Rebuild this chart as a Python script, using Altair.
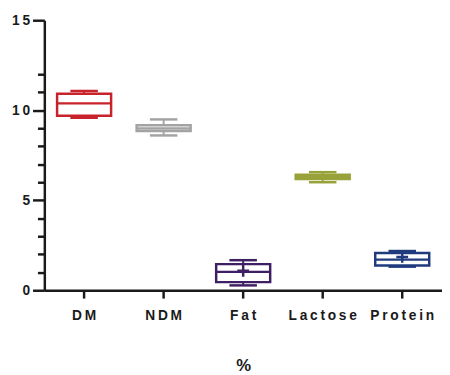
import altair as alt
import pandas as pd

categories = ["DM", "NDM", "Fat", "Lactose", "Protein"]
whisker_low = [9.58, 8.60, 0.27, 6.00, 1.31]
q1 = [9.69, 8.84, 0.45, 6.18, 1.38]
median = [10.38, 8.98, 1.02, 6.29, 1.70]
q3 = [10.91, 9.16, 1.45, 6.42, 2.07]
whisker_high = [11.07, 9.49, 1.67, 6.56, 2.18]
mean = [None, None, 1.08, None, 1.85]
colors = ["#C8222B", "#A3A3A3", "#3F1F63", "#98A23A", "#1F3B7E"]

df = pd.DataFrame({
    "cat": categories,
    "low": whisker_low,
    "q1": q1,
    "med": median,
    "q3": q3,
    "high": whisker_high,
    "mean": mean,
})

FONT = "Liberation Sans"
spaced = "join(split(datum.label,''),'\u2009')"

x_axis = alt.Axis(
    title="%",
    labelAngle=0,
    labelExpr=spaced,
    labelFont=FONT,
    labelFontSize=14,
    labelFontWeight="bold",
    labelColor="#1a1a1a",
    labelPadding=11,
    labelOverlap=False,
    titleFont=FONT,
    titleFontSize=17,
    titleFontWeight="bold",
    titleColor="#1a1a1a",
    titlePadding=36,
    tickSize=8,
    tickWidth=2.5,
    tickColor="#1a1a1a",
    domainWidth=2.5,
    domainColor="#1a1a1a",
)
xscale = alt.Scale(domain=categories, paddingInner=0, paddingOuter=0)


def xe():
    return alt.X("cat:N", sort=categories, scale=xscale, axis=x_axis)


color_enc = alt.Color("cat:N", scale=alt.Scale(domain=categories, range=colors), legend=None)

yscale = alt.Scale(domain=[0, 15], nice=False, zero=True)
y_axis = alt.Axis(
    title=None,
    values=[0, 1, 2, 3, 4, 5, 6, 7, 8, 9, 10, 11, 12, 15],
    labelExpr="datum.value % 5 === 0 ? " + spaced + " : ''",
    labelFont=FONT,
    labelFontSize=14,
    labelFontWeight="bold",
    labelColor="#1a1a1a",
    labelPadding=3,
    labelOverlap=False,
    tickSize={"condition": {"test": "datum.value % 5 === 0", "value": 12}, "value": 7},
    tickWidth=2.5,
    tickColor="#1a1a1a",
    domainWidth=2.5,
    domainColor="#1a1a1a",
    grid=False,
)

base = alt.Chart(df)


def ye(field):
    return alt.Y(field, scale=yscale, axis=y_axis)


boxes = base.mark_bar(size=55, fill="white", strokeWidth=2.5, opacity=1).encode(
    x=xe(), y=ye("q1:Q"), y2="q3:Q", stroke=color_enc,
)
wlow = base.mark_rule(strokeWidth=2, opacity=1).encode(x=xe(), y=ye("low:Q"), y2="q1:Q", color=color_enc)
whigh = base.mark_rule(strokeWidth=2, opacity=1).encode(x=xe(), y=ye("q3:Q"), y2="high:Q", color=color_enc)
cap_low = base.mark_tick(size=28, thickness=2.5, opacity=1).encode(x=xe(), y=ye("low:Q"), color=color_enc)
cap_high = base.mark_tick(size=28, thickness=2.5, opacity=1).encode(x=xe(), y=ye("high:Q"), color=color_enc)
med = base.mark_tick(size=55, thickness=2.5, opacity=1).encode(x=xe(), y=ye("med:Q"), color=color_enc)
means = base.mark_point(shape="M-1,0H1M0,-1V1", size=144, filled=False, strokeWidth=2.5, opacity=1).encode(
    x=xe(), y=ye("mean:Q"), color=color_enc
)

chart = (
    alt.layer(wlow, whigh, cap_low, cap_high, boxes, med, means)
    .properties(
        width=405,
        height=275,
        autosize=alt.AutoSizeParams(type="none"),
        padding={"left": 37, "top": 9, "right": 0, "bottom": 90},
    )
    .configure_view(stroke=None)
)

chart.save("out.html", embed_options={"renderer": "svg", "actions": False})
